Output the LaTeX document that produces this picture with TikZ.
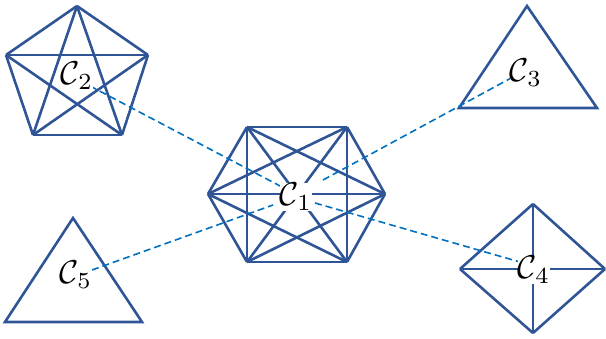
\documentclass[tikz,border=0pt]{standalone}
\definecolor{edgeblue}{RGB}{47,85,151}
\definecolor{dashblue}{RGB}{0,112,192}
\tikzset{
  edge/.style={draw=edgeblue, line width=2.6pt},
  link/.style={draw=dashblue, line width=1.6pt, dash pattern=on 7pt off 4pt},
  lab/.style={fill=white, inner sep=0.3pt},
}
\newcommand{\biglab}[1]{\scalebox{3.3}{$\mathcal{C}_{#1}$}}
\begin{document}
\begin{tikzpicture}[x=1pt,y=-1pt]
\useasboundingbox (0,0) rectangle (606,339);
% C1 hexagon K6
\coordinate (h1) at (247,127);
\coordinate (h2) at (347,127);
\coordinate (h3) at (385,194);
\coordinate (h4) at (347,262);
\coordinate (h5) at (247,262);
\coordinate (h6) at (208,194);
\foreach \i in {1,...,6}{\foreach \j in {1,...,6}{\ifnum\i<\j \draw[edge] (h\i) -- (h\j);\fi}}
% C2 pentagon K5
\coordinate (p1) at (77,6);
\coordinate (p2) at (148,55);
\coordinate (p3) at (122,135);
\coordinate (p4) at (33,135);
\coordinate (p5) at (6,55);
\foreach \i in {1,...,5}{\foreach \j in {1,...,5}{\ifnum\i<\j \draw[edge] (p\i) -- (p\j);\fi}}
% C3 triangle
\coordinate (t1) at (527,6);
\coordinate (t2) at (597,108);
\coordinate (t3) at (459,108);
\draw[edge] (t1) -- (t2) -- (t3) -- cycle;
% C4 diamond K4
\coordinate (d1) at (533,204);
\coordinate (d2) at (605,269);
\coordinate (d3) at (533,333);
\coordinate (d4) at (460,269);
\foreach \i in {1,...,4}{\foreach \j in {1,...,4}{\ifnum\i<\j \draw[edge] (d\i) -- (d\j);\fi}}
% C5 triangle
\coordinate (s1) at (73,218);
\coordinate (s2) at (142,322);
\coordinate (s3) at (5,322);
\draw[edge] (s1) -- (s2) -- (s3) -- cycle;
% link ends
\coordinate (a2) at (90,86);
\coordinate (b2) at (282,187);
\coordinate (a3) at (513,77);
\coordinate (b3) at (323,180);
\coordinate (a5) at (92,270);
\coordinate (b5) at (273,205);
\coordinate (a4) at (520,262);
\coordinate (b4) at (315,203);
\draw[link] (a2) -- (b2);
\draw[link] (b3) -- (a3);
\draw[link] (a5) -- (b5);
\draw[link] (b4) -- (a4);
% labels
\node[lab] (c1) at (296,197) {\biglab{1}};
\node[lab] (c2) at (77,76) {\biglab{2}};
\node[lab] (c3) at (526,73) {\biglab{3}};
\node[lab] (c4) at (534,270) {\biglab{4}};
\node[lab] (c5) at (76,275) {\biglab{5}};
\end{tikzpicture}
\end{document}
